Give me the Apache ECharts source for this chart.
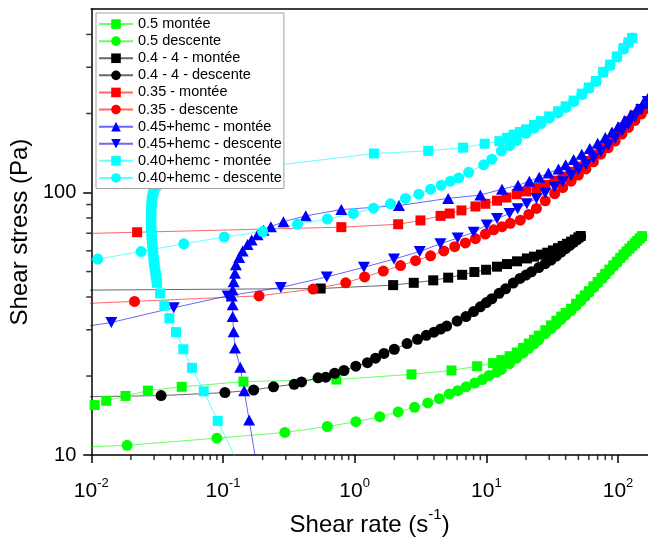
<!DOCTYPE html>
<html><head><meta charset="utf-8">
<script src="https://cdn.jsdelivr.net/npm/echarts@6/dist/echarts.min.js"></script>
<style>html,body{margin:0;padding:0;background:#fff}#c{width:648px;height:542px}</style>
</head><body><div id="c"></div>
<script>
// ---- axis ticks ----
const xMajorTicks = [0.01, 0.1, 1, 10, 100];
const xMinorTicks = [0.02,0.03,0.04,0.05,0.06,0.07,0.08,0.09,0.2,0.3,0.4,0.5,0.6,0.7,0.8,0.9,2,3,4,5,6,7,8,9,20,30,40,50,60,70,80,90];
const yMajorTicks = [10, 100];
const yMinorTicks = [20,30,40,50,60,70,80,90,200,300,400];

// ---- series names ----
const names = ['0.5 montée','0.5 descente','0.4 - 4 - montée','0.4 - 4 - descente','0.35 - montée','0.35 - descente','0.45+hemc - montée','0.45+hemc - descente','0.40+hemc - montée','0.40+hemc - descente'];

// ---- data [shear rate, shear stress] ----
const green_up = [[0.0106,15.5],[0.013,16.1],[0.0182,16.8],[0.0269,17.6],[0.0486,18.2],[0.143,19.05],[0.726,19.4],[2.70,20.3],[5.43,21.0],[8.51,21.8],[11.25,22.4],[13,23.0],[15,23.8],[17,24.6],[19,25.6],[21,26.6],[23,27.5],[25,28.5],[28,29.9],[31,31.2],[34,32.5],[37,33.7],[40,34.8],[44,36.1],[48,37.7],[52,39.2],[56,40.6],[60,42.1],[65,43.9],[70,45.6],[75,47.3],[80,49.0],[86,50.9],[92,52.8],[98,54.5],[104,56.4],[110,58.1],[116,59.7],[122,61.2],[128,62.7],[134,64.1],[140,65.5],[146,66.9],[152,68.2]];
const green_down = [[152,68.0],[146,66.7],[140,65.3],[134,63.9],[128,62.5],[122,61.0],[116,59.4],[110,57.8],[104,56.1],[98,54.2],[92,52.4],[86,50.5],[80,48.6],[75,46.9],[70,45.2],[65,43.4],[60,41.6],[56,40.1],[52,38.6],[48,37.1],[44,35.5],[40,34.1],[37,32.9],[34,31.6],[31,30.3],[28,29.0],[25,27.5],[23,26.5],[21,25.5],[19,24.5],[17,23.4],[15,22.3],[13,21.2],[12,20.7],[10.5,20.1],[9.33,19.4],[8.15,18.8],[7.02,18.2],[6.06,17.6],[5.24,17.1],[4.40,16.4],[3.59,15.8],[2.85,15.2],[2.14,14.6],[1.55,14.0],[1.02,13.4],[0.62,12.85],[0.295,12.2],[0.09,11.6],[0.0187,10.9],[0.005,10.6]];
const black_up = [[0.005,42.4],[0.552,43.1],[1.96,44.4],[2.81,45.3],[3.95,46.3],[5.13,47.4],[6.55,48.6],[8.11,49.8],[9.95,50.8],[12.05,52.2],[14.35,53.4],[17.1,54.7],[20.3,56.1],[23,57.0],[26,58.0],[29,59.0],[32,60.2],[35,61.4],[38,62.6],[41,63.8],[44,65.0],[47,66.2],[50,67.5],[52,68.3]];
const black_down = [[52,68.0],[49,66.2],[46,64.6],[43,62.9],[40,61.1],[37,59.3],[34,57.3],[31,55.3],[28,53.6],[25,51.8],[22,49.9],[20,48.5],[18,47.1],[16,45.2],[14,43.0],[12.5,41.3],[11,39.4],[10,38.1],[9,36.7],[8,35.2],[7,33.7],[6,32.4],[5,31.0],[4.5,30.2],[4,29.4],[3.5,28.6],[3,27.6],[2.5,26.6],[2,25.3],[1.67,24.4],[1.44,23.4],[1.25,22.5],[1.02,21.8],[0.83,21.0],[0.705,20.5],[0.603,19.8],[0.527,19.7],[0.395,19.0],[0.347,18.6],[0.242,18.2],[0.171,17.7],[0.1035,17.3],[0.0339,16.85],[0.005,16.6]];
const red_up = [[0.005,69.3],[0.0223,70.6],[0.792,73.8],[2.14,75.7],[3.16,78.3],[4.49,81.5],[5.27,83.2],[6.47,85.5],[8.26,88.5],[9.83,90.6],[12.05,93.1],[14.2,95.7],[17,98.5],[20,101],[24,104],[28,107],[33,111],[38,115],[44,120],[50,125.5],[57,132],[65,139.5],[74,148],[84,157],[95,167],[107,177],[120,187],[134,197],[150,206],[165,212]];
const red_down = [[165,209],[150,199],[134,188],[120,177],[107,167],[95,157],[84,148],[74,140],[65,131],[57,123],[50,116.5],[44,110.5],[38,104.5],[33,99],[28,93],[24,87],[21,82.5],[18.1,78.5],[15.2,76.3],[13.15,74.1],[11.36,72.1],[9.83,69.5],[8.26,66.7],[6.93,64.3],[5.75,62.2],[4.75,59.9],[3.77,57.4],[2.90,55.0],[2.23,52.7],[1.65,50.2],[1.19,47.7],[0.855,45.3],[0.483,42.9],[0.188,40.4],[0.0213,38.5],[0.005,37.3]];
const blue_up = [[0.1875,8.15],[0.158,13.6],[0.1449,17.6],[0.1352,21.6],[0.1233,25.6],[0.1205,29.5],[0.1185,33.7],[0.1185,37.4],[0.1164,40.4],[0.1185,42.5],[0.1205,45.7],[0.1233,49.3],[0.1254,53.1],[0.1329,56.6],[0.141,59.9],[0.1538,63.4],[0.165,66.0],[0.1832,69.1],[0.2034,71.9],[0.231,74.1],[0.288,77.4],[0.425,81.5],[0.792,86.1],[2.17,89.2],[5.13,95.0],[9.0,97.8],[13.15,103],[17.4,106.5],[21.2,110.5],[25.2,114.4],[29.6,118.6],[35.3,122.8],[40,127.5],[46,133.5],[53,140],[61,147],[70,154],[80,162],[90,170],[100,178],[112,188],[125,198],[140,209],[155,219],[168,228]];
const blue_down = [[168,222],[150,207],[134,194],[120,182],[107,171],[95,161],[84,151.5],[74,143],[65,135],[57,128],[50,122],[44,116],[38,110],[33,105],[28,99.5],[24,95],[20.3,90.6],[17.3,86.7],[15.0,83.2],[12.05,79.6],[10.07,75.2],[8.01,70.6],[6.06,67.1],[4.48,63.8],[3.12,59.6],[1.99,55.8],[1.176,51.9],[0.614,47.7],[0.275,43.5],[0.1085,40.4],[0.0423,36.4],[0.0142,32.0],[0.005,29.5]];
const cyan_up = [[0.147,8.2],[0.0912,13.5],[0.0714,17.5],[0.0582,21.5],[0.050,25.3],[0.044,29.4],[0.0392,33.2],[0.0359,37.1],[0.0333,41.3],[0.0316,45.3],[0.0312,47.0],[0.0309,48.5],[0.0306,50.2],[0.0303,51.9],[0.0300,53.7],[0.0298,55.5],[0.0296,57.6],[0.0294,59.9],[0.0292,62.0],[0.0290,64.0],[0.0288,66.5],[0.0287,69.1],[0.0286,71.5],[0.0285,74.0],[0.0285,76.7],[0.0285,79.6],[0.0285,82.3],[0.0286,85.0],[0.0286,88.3],[0.0287,91.8],[0.0289,94.5],[0.0292,97.0],[0.0296,100],[0.0300,103],[0.0307,105.5],[0.0315,107],[0.0326,108.5],[0.0339,109.6],[0.0358,111],[0.038,112],[0.0418,113.4],[0.0524,115.3],[1.40,140.8],[3.62,144.1],[6.66,148.2],[9.71,153.4],[12.55,156.9],[14.35,161.5],[16.1,166.2],[18,170],[20,174],[23,181],[26,187],[30,195],[35,204],[40,213],[46,224],[53,238],[60,251],[68,266],[77,288],[87,307],[98,330],[110,355],[120,373],[128,388]];
const cyan_down = [[128,388],[120,372],[110,352],[98,328],[87,305],[77,287],[68,265],[60,250],[53,236],[46,222],[40,211],[35,201],[30,192],[26,183],[23,176],[20,168],[17,158],[15,151],[13,144],[11,134],[9.54,127.5],[7.34,119.4],[6.17,113.7],[5.33,110.5],[4.54,106.5],[3.77,103],[3.07,98.6],[2.43,95.0],[1.87,90.6],[1.39,87.2],[0.977,83.2],[0.62,79.2],[0.368,75.7],[0.2,71.0],[0.1023,67.7],[0.0504,63.8],[0.0239,59.6],[0.0112,55.8],[0.005,53.8]];

const seriesData = [green_up, green_down, black_up, black_down, red_up, red_down, blue_up, blue_down, cyan_up, cyan_down];
const colors = ['#00ff00','#00ff00','#000000','#000000','#ff0000','#ff0000','#0000ff','#0000ff','#00ffff','#00ffff'];
const downTri = 'path://M0,0 L10,0 L5,9 Z';
const upTri = 'path://M5,0 L10,9 L0,9 Z';
const symbols = ['rect','circle','rect','circle','rect','circle',upTri,downTri,'rect','circle'];
const sizes = [10,11,10,11,10,11,[12,11],[12,11],10,11];

const X_MIN = 0.01, X_MAX = 168.8, Y_MIN = 10, Y_MAX = 500;
const FONT = 'Liberation Sans, Arial, sans-serif';

const chart = echarts.init(document.getElementById('c'), null, {renderer:'canvas'});

function isPow10(v){ const l = Math.log10(v); return Math.abs(l - Math.round(l)) < 1e-6; }

const series = seriesData.map((d,i)=>({
  type:'line', name:names[i], data:d, symbol:symbols[i], symbolSize:sizes[i],
  showSymbol:true, showAllSymbol:true, clip:true, animation:false,
  lineStyle:{width:1, color:colors[i], opacity:0.6},
  itemStyle:{color:colors[i]},
  emphasis:{disabled:true}
}));
series.push({
  type:'scatter', data:xMinorTicks.map(v=>[v, Y_MIN]), symbol:'rect', symbolSize:[1.5,5],
  symbolOffset:[0,2.5], itemStyle:{color:'#000'}, clip:false, silent:true, animation:false, z:5
});
series.push({
  type:'scatter', data:yMinorTicks.map(v=>[X_MIN, v]), symbol:'rect', symbolSize:[5,1.5],
  symbolOffset:[-2.5,0], itemStyle:{color:'#000'}, clip:false, silent:true, animation:false, z:5
});

chart.setOption({
  animation:false,
  backgroundColor:'#fff',
  grid:{left:90, right:0, top:9, bottom:76, containLabel:false},
  legend:{
    data:names, orient:'vertical', left:96, top:13,
    padding:[2.5,2,2,2], itemGap:0, itemWidth:34, itemHeight:12,
    backgroundColor:'#fff', borderColor:'#a0a0a0', borderWidth:1, borderRadius:0,
    textStyle:{fontFamily:FONT, fontSize:14.5, lineHeight:17.1, color:'#000'},
    selectedMode:false
  },
  xAxis:[{
    type:'log', logBase:10, min:X_MIN, max:X_MAX, interval:1,
    axisLine:{show:true, onZero:false, lineStyle:{color:'#000', width:1.5}},
    axisTick:{show:true, inside:false, length:8, lineStyle:{color:'#000', width:1.5}},
    splitLine:{show:false}, minorTick:{show:false},
    axisLabel:{
      margin:22, showMaxLabel:false, color:'#000', fontFamily:FONT,
      formatter:(v)=> isPow10(v) ? '{b|10}{s|' + Math.round(Math.log10(v)) + '}' : '',
      rich:{
        b:{fontSize:21, lineHeight:25, fontFamily:FONT, color:'#000', verticalAlign:'bottom'},
        s:{fontSize:13, lineHeight:15, fontFamily:FONT, color:'#000', verticalAlign:'top'}
      }
    },
    name:'{a|Shear rate (s}{s|-1}{a|)}', nameLocation:'middle', nameGap:38,
    nameTextStyle:{
      rich:{
        a:{fontSize:24, lineHeight:30, fontFamily:FONT, color:'#000', verticalAlign:'bottom'},
        s:{fontSize:15, lineHeight:18, fontFamily:FONT, color:'#000', verticalAlign:'top'}
      }
    }
  },{
    type:'log', logBase:10, min:X_MIN, max:X_MAX, position:'top',
    axisLine:{show:true, onZero:false, lineStyle:{color:'#000', width:1.5}},
    axisTick:{show:false}, axisLabel:{show:false}, splitLine:{show:false}
  }],
  yAxis:{
    type:'log', logBase:10, min:Y_MIN, max:Y_MAX, interval:1,
    axisLine:{show:true, onZero:false, lineStyle:{color:'#000', width:1.5}},
    axisTick:{show:true, inside:false, length:8, lineStyle:{color:'#000', width:1.5}},
    splitLine:{show:false},
    axisLabel:{margin:15, showMaxLabel:false, color:'#000', fontFamily:FONT, fontSize:20,
      formatter:(v)=> isPow10(v) ? String(Math.round(v)) : ''},
    name:'Shear stress (Pa)', nameLocation:'middle', nameGap:55,
    nameTextStyle:{fontSize:24, fontFamily:FONT, color:'#000'}
  },
  series:series
});
</script>
</body></html>
